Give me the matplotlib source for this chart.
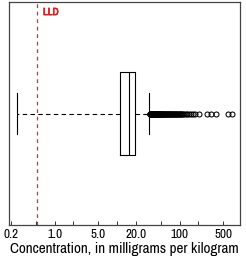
import matplotlib
matplotlib.use("Agg")
import matplotlib.pyplot as plt
import matplotlib.patheffects as pe
from matplotlib import font_manager
from matplotlib.ticker import FixedLocator, NullFormatter, NullLocator

# pick a narrow face if one is installed
names = sorted({f.name for f in font_manager.fontManager.ttflist})
narrow = [n for n in names if "Narrow" in n or "Condensed" in n]
plt.rcParams["font.family"] = narrow[:1] + ["DejaVu Sans"]

# box statistics, mg/kg
q1 = 11.2
median = 15.4
q3 = 19.6
whisker_low = 0.25
whisker_high = 32.6

# outliers above the upper whisker
outliers = [33.2, 33.5, 33.8, 34, 34.3, 34.6, 35, 35.3, 35.6, 36, 36.4, 36.8,
            37.2, 37.6, 38, 38.5, 39, 39.5, 40, 40.5, 41, 41.5, 42, 42.6,
            43.2, 43.8, 44.4, 45, 45.7, 46.4, 47, 47.8, 48.5, 49.3, 50, 51,
            52, 53, 54, 55, 56, 57, 58, 59, 60, 61.5, 63, 64.5, 66, 67.5,
            69, 70.5, 72, 74, 76, 78, 80, 82, 84, 86, 88, 90, 92, 94, 97,
            100, 103, 106, 110, 114, 120, 125, 132, 140, 153, 165, 178, 206,
            277, 321, 386, 601, 696]

lld = 0.52

major_ticks = [0.2, 1.0, 5.0, 20.0, 100, 500]
major_labels = ["0.2", "1.0", "5.0", "20.0", "100", "500"]
minor_ticks = [0.5, 2, 10, 50, 200]

stats = [{
    "med": median, "q1": q1, "q3": q3,
    "whislo": whisker_low, "whishi": whisker_high,
    "fliers": outliers,
}]

fig = plt.figure(figsize=(2.46, 2.56), dpi=100)
ax = fig.add_axes([0.037, 0.121, 0.939, 0.871])

ax.bxp(stats, vert=False, widths=0.37, showfliers=True,
       boxprops=dict(color="black", linewidth=0.8),
       medianprops=dict(color="black", linewidth=0.8),
       whiskerprops=dict(color="black", linewidth=0.8, linestyle=(0, (4, 3))),
       capprops=dict(color="black", linewidth=0.8),
       flierprops=dict(marker="o", markersize=3.6, markerfacecolor="none",
                       markeredgecolor="black", markeredgewidth=0.75))

ax.axvline(lld, color="#e32a2a", linewidth=0.9, linestyle=(0, (3, 3)))
ax.text(lld * 1.25, 1.455, "LLD", color="#e0191c", fontsize=7.5,
        fontweight="bold", va="center", ha="left",
        path_effects=[pe.withStroke(linewidth=0.5, foreground="#e0191c")])

ax.set_xscale("log")
ax.set_xlim(0.186, 935)
ax.set_ylim(0.5, 1.5)
ax.xaxis.set_major_locator(FixedLocator(major_ticks))
ax.set_xticklabels(major_labels)
ax.xaxis.set_minor_locator(FixedLocator(minor_ticks))
ax.xaxis.set_minor_formatter(NullFormatter())
ax.yaxis.set_major_locator(NullLocator())
ax.tick_params(axis="x", which="both", direction="in", length=3,
               width=0.7, labelsize=9.5, pad=3, color="#333333")
lab_size = 10.9 if narrow else 8
ax.set_xlabel("Concentration, in milligrams per kilogram", fontsize=lab_size,
              labelpad=1)

for s in ax.spines.values():
    s.set_color("#444444")
    s.set_linewidth(0.9)

fig.savefig("out.png", dpi=100)
